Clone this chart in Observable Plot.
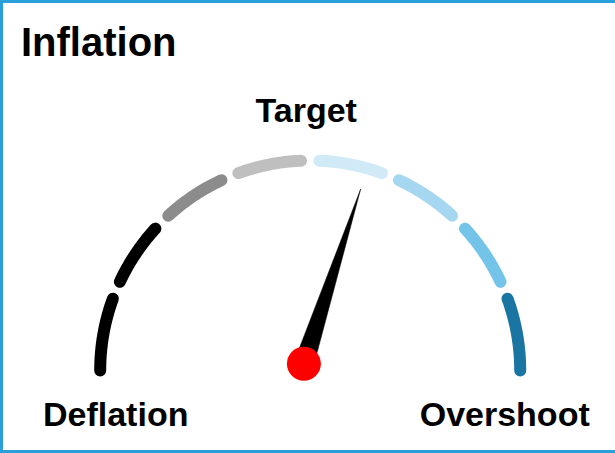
<!DOCTYPE html>
<html>
<head>
<meta charset="utf-8">
<script src="https://cdn.jsdelivr.net/npm/d3@7"></script>
<script src="https://cdn.jsdelivr.net/npm/@observablehq/plot@0.6"></script>
<style>
  html, body { margin: 0; padding: 0; background: #ffffff; }
  #frame {
    position: relative; width: 615px; height: 453px; box-sizing: border-box;
    border: 3px solid #29a0da; border-right: none; overflow: hidden;
    font-family: "Liberation Sans", Arial, sans-serif; background: #ffffff;
  }
  #title {
    font-size: 40px; font-weight: bold; line-height: 40px; height: 40px;
    margin: 19px 0 0 18px; color: #000000; white-space: nowrap;
  }
  #chart svg { display: block; }
</style>
</head>
<body>
<div id="frame">
  <div id="title">Inflation</div>
  <div id="chart"></div>
</div>
<script>
// ---- data ----
const segmentBreaks = [0, 12.5, 25, 37.5, 50, 62.5, 75, 87.5, 100];
const segmentColors = ["#000000", "#000000", "#8c8c8c", "#bfbfbf", "#d0eaf7", "#a5d7f1", "#74c4ea", "#1a75a3"];
const labelTexts = ["Deflation", "Target", "Overshoot"];
const labelValues = [0, 50, 100];
const needleValue = 60;

// ---- layout (page pixels) ----
const cxPage = 309.7, cyPage = 370, R = 210;
const svgLeft = 3, svgTop = 62, W = 612, H = 388;
const gapDeg = 5;                       // gap between segments
const needleLength = 0.875;             // in radius units
const needleHalfBase = 0.047;
const pivot = {x: -0.03, y: 0.032};     // hub offset from arc centre (radius units)

const toAngle = v => Math.PI * (1 - v / 100);
const halfGap = gapDeg / 180 * 100 / 2;

// arc segments sampled along the circle
const segments = segmentColors.map((color, i) => {
  const v0 = segmentBreaks[i] + (i > 0 ? halfGap : 0);
  const v1 = segmentBreaks[i + 1] - (i < segmentColors.length - 1 ? halfGap : 0);
  const pts = d3.range(0, 41).map(k => {
    const a = toAngle(v0 + (v1 - v0) * k / 40);
    return {x: Math.cos(a), y: Math.sin(a)};
  });
  return {color, pts};
});

// needle polygon
const na = toAngle(needleValue);
const ux = Math.cos(na), uy = Math.sin(na);
const needle = [
  {x: pivot.x - uy * needleHalfBase, y: pivot.y + ux * needleHalfBase},
  {x: pivot.x + ux * needleLength, y: pivot.y + uy * needleLength},
  {x: pivot.x + uy * needleHalfBase, y: pivot.y - ux * needleHalfBase},
  {x: pivot.x - uy * needleHalfBase, y: pivot.y + ux * needleHalfBase}
];

const labelPos = labelValues.map(v => ({x: Math.cos(toAngle(v)), y: Math.sin(toAngle(v))}));
const labelOffsets = [{dx: 15.5, dy: 55}, {dx: -4, dy: -38.5}, {dx: -15.5, dy: 55}];

const textStyle = {fontSize: 34, fontWeight: "bold", fill: "#000000", textAnchor: "middle", lineAnchor: "bottom"};

const plot = Plot.plot({
  width: W, height: H, margin: 0,
  x: {domain: [(svgLeft - cxPage) / R, (svgLeft + W - cxPage) / R], axis: null},
  y: {domain: [(cyPage - (svgTop + H)) / R, (cyPage - svgTop) / R], axis: null},
  style: {fontFamily: "Liberation Sans, Arial, sans-serif", background: "transparent", overflow: "visible"},
  marks: [
    ...segments.map(s => Plot.line(s.pts, {x: "x", y: "y", stroke: s.color, strokeWidth: 12, strokeLinecap: "round"})),
    Plot.line(needle, {x: "x", y: "y", fill: "#000000", stroke: "#000000", strokeWidth: 0.5}),
    Plot.dot([pivot], {x: "x", y: "y", r: 17, fill: "#ff0000", stroke: "none"}),
    ...labelTexts.map((t, i) => Plot.text([t], {
      x: () => labelPos[i].x, y: () => labelPos[i].y, text: d => d,
      dx: labelOffsets[i].dx, dy: labelOffsets[i].dy, ...textStyle
    }))
  ]
});
document.getElementById("chart").appendChild(plot);
</script>
</body>
</html>
